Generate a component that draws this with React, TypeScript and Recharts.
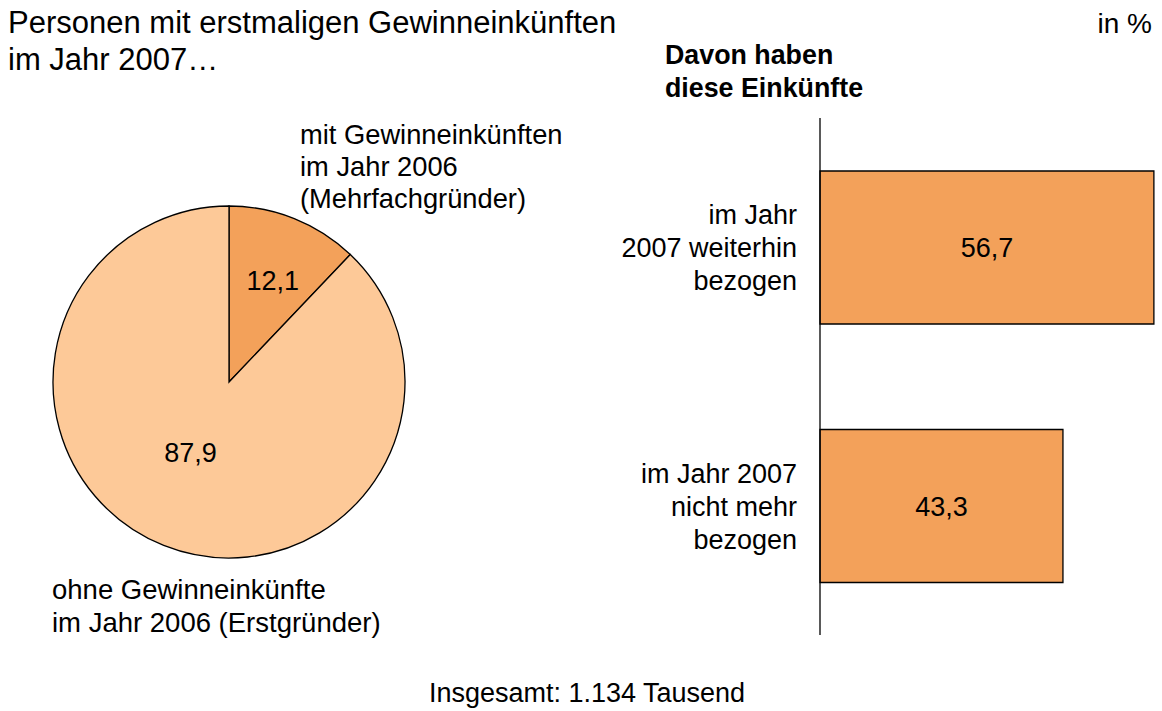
import { PieChart, Pie, Cell, BarChart, Bar, XAxis, YAxis, LabelList } from "recharts";

const pieNames = ["Mehrfachgründer", "Erstgründer"];
const pieValues = [12.1, 87.9];
const barCategories = ["im Jahr\n2007 weiterhin\nbezogen", "im Jahr 2007\nnicht mehr\nbezogen"];
const barValues = [56.7, 43.3];

const FONT = '"Liberation Sans", Arial, Helvetica, sans-serif';
const ORANGE = "#f3a15a";
const PEACH = "#fdc998";

const pieData = pieNames.map((name, i) => ({ name, value: pieValues[i] }));
const barData = barCategories.map((name, i) => ({ name, value: barValues[i] }));

const fmt = (v: number) => String(v).replace(".", ",");

const RADIAN = Math.PI / 180;
// label placement inside each slice: radius factor and a small angle nudge
const labelRadius = [0.63, 0.455];
const labelNudge = [-1.5, -7];

function renderPieLabel(props: any) {
  const { cx, cy, midAngle, outerRadius, value, index } = props;
  const r = outerRadius * labelRadius[index];
  const a = (midAngle + labelNudge[index]) * RADIAN;
  const x = cx + r * Math.cos(-a);
  const y = cy + r * Math.sin(-a);
  return (
    <text x={x} y={y} dy={9.5} textAnchor="middle" fontSize={27} fontFamily={FONT} fill="#000">
      {fmt(value)}
    </text>
  );
}

function CategoryTick(props: any) {
  const { x, y, payload } = props;
  const lines = String(payload.value).split("\n");
  return (
    <text x={x} y={y} textAnchor="end" fontSize={27} fontFamily={FONT} fill="#000">
      {lines.map((l, i) => (
        <tspan key={i} x={x} y={y + 10 + (i - (lines.length - 1) / 2) * 33}>
          {l}
        </tspan>
      ))}
    </text>
  );
}

export default function App() {
  return (
    <div style={{ position: "absolute", left: 0, top: 0, width: 1162, height: 711, background: "#fff", fontFamily: FONT }}>
      <div style={{ position: "absolute", left: 0, top: 0 }}>
        <PieChart width={460} height={711} margin={{ top: 0, right: 0, bottom: 0, left: 0 }}>
          <Pie
            data={pieData}
            dataKey="value"
            nameKey="name"
            cx={229}
            cy={382}
            outerRadius={176}
            startAngle={90}
            endAngle={-270}
            stroke="#000"
            strokeWidth={1.3}
            label={renderPieLabel}
            labelLine={false}
            isAnimationActive={false}
          >
            <Cell fill={ORANGE} />
            <Cell fill={PEACH} />
          </Pie>
        </PieChart>
      </div>

      <div style={{ position: "absolute", left: 560, top: 118 }}>
        <BarChart width={600} height={517} data={barData} layout="vertical" margin={{ top: 0, right: 0, bottom: 0, left: 0 }}>
          <XAxis type="number" hide domain={[7.5, 57.6]} />
          <YAxis
            type="category"
            dataKey="name"
            width={260}
            axisLine={{ stroke: "#000", strokeWidth: 1.3 }}
            tickLine={false}
            tickSize={0}
            tickMargin={23}
            tick={<CategoryTick />}
          />
          <Bar dataKey="value" fill={ORANGE} stroke="#000" strokeWidth={1.3} barSize={153} isAnimationActive={false}>
            <LabelList dataKey="value" position="center" formatter={(v: any) => fmt(v)} fill="#000" fontSize={27} fontFamily={FONT} />
          </Bar>
        </BarChart>
      </div>

      <svg width={1162} height={711} style={{ position: "absolute", left: 0, top: 0, pointerEvents: "none" }} fontFamily={FONT} fill="#000">
        <text x={8} y={33} fontSize={31}>Personen mit erstmaligen Gewinneinkünften</text>
        <text x={8} y={70} fontSize={31}>im Jahr 2007…</text>
        <text x={1152} y={33} fontSize={28} textAnchor="end">in %</text>
        <text x={665} y={64} fontSize={26.8} fontWeight="bold">Davon haben</text>
        <text x={665} y={97} fontSize={26.8} fontWeight="bold">diese Einkünfte</text>
        <text x={300} y={144} fontSize={27.3}>mit Gewinneinkünften</text>
        <text x={300} y={176} fontSize={27.3}>im Jahr 2006</text>
        <text x={300} y={208} fontSize={27.3}>(Mehrfachgründer)</text>
        <text x={52} y={599} fontSize={27.5}>ohne Gewinneinkünfte</text>
        <text x={52} y={632} fontSize={27.5}>im Jahr 2006 (Erstgründer)</text>
        <text x={587} y={702} fontSize={27} textAnchor="middle">Insgesamt: 1.134 Tausend</text>
      </svg>
    </div>
  );
}
